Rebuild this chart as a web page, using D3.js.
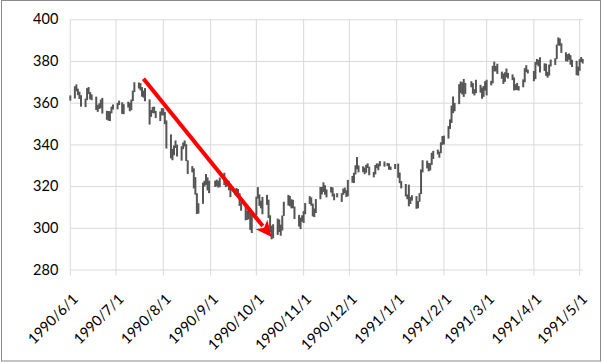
<!DOCTYPE html>
<html>
<head>
<meta charset="utf-8">
<script src="https://d3js.org/d3.v7.min.js"></script>
<style>
body { margin: 0; background: #fff; }
#drawing_region text { font-family: Lato, "Open Sans", sans-serif; fill: #000; }
</style>
</head>
<body>
<svg id="drawing_region"></svg>
<script>
// trading days of each month
const months = ["1990-06", "1990-07", "1990-08", "1990-09", "1990-10", "1990-11",
                "1990-12", "1991-01", "1991-02", "1991-03", "1991-04", "1991-05"];
const trading_days = [
    [1,4,5,6,7,8,11,12,13,14,15,18,19,20,21,22,25,26,27,28,29],
    [2,3,5,6,9,10,11,12,13,16,17,18,19,20,23,24,25,26,27,30,31],
    [1,2,3,6,7,8,9,10,13,14,15,16,17,20,21,22,23,24,27,28,29,30,31],
    [4,5,6,7,10,11,12,13,14,17,18,19,20,21,24,25,26,27,28],
    [1,2,3,4,5,8,9,10,11,12,15,16,17,18,19,22,23,24,25,26,29,30,31],
    [1,2,5,6,7,8,9,12,13,14,15,16,19,20,21,23,26,27,28,29,30],
    [3,4,5,6,7,10,11,12,13,14,17,18,19,20,21,24,26,27,28,31],
    [2,3,4,7,8,9,10,11,14,15,16,17,18,21,22,23,24,25,28,29,30,31],
    [1,4,5,6,7,8,11,12,13,14,15,19,20,21,22,25,26,27,28],
    [1,4,5,6,7,8,11,12,13,14,15,18,19,20,21,22,25,26,27,28],
    [1,2,3,4,5,8,9,10,11,12,15,16,17,18,19,22,23,24,25,26,29,30],
    [1,2,3]
];

const high = [
    363.5,367.9,368.8,366.7,365.3,363.6,362.0,367.0,367.5,365.1,364.0,362.9,359.0,359.7,361.5,362.3,356.1,356.0,355.9,358.1,359.1,
    359.9,361.0,360.2,359.3,360.5,360.0,361.5,365.8,369.8,369.7,369.4,367.5,365.8,367.0,361.6,356.5,358.0,358.1,356.0,355.8,357.4,
    357.3,355.5,351.5,344.8,337.9,339.5,341.9,339.9,339.1,340.9,341.9,340.1,332.4,329.6,328.5,324.3,316.6,311.8,321.7,322.6,325.8,324.2,322.6,
    322.6,323.1,322.6,324.1,326.4,322.1,322.9,322.5,318.7,318.4,319.1,318.6,316.6,312.2,311.3,308.3,308.3,307.8,306.1,
    314.9,319.5,316.0,313.0,314.8,315.8,313.5,306.0,301.0,301.7,304.4,304.0,301.5,305.9,312.5,315.8,315.3,313.7,313.4,310.2,306.2,304.9,306.0,
    308.0,311.9,315.2,314.6,311.6,309.3,313.8,319.6,319.6,321.8,320.4,318.4,319.6,319.4,316.4,316.6,316.6,318.8,319.3,318.0,323.0,
    324.9,326.4,330.0,333.9,329.9,329.5,328.9,330.2,330.9,329.3,326.8,330.1,330.9,330.8,332.0,331.8,331.1,330.9,329.4,330.6,
    330.8,326.5,322.4,321.0,316.0,320.7,314.8,315.6,315.2,312.8,316.6,328.0,332.4,332.2,331.1,331.0,336.0,336.9,337.5,336.5,341.0,344.0,
    344.2,348.8,352.0,358.6,363.0,359.9,368.9,370.2,369.8,371.4,369.5,370.3,369.4,366.5,371.0,368.6,367.3,368.0,370.3,
    371.0,370.5,377.7,379.7,377.6,378.7,374.9,374.0,374.6,376.4,374.3,373.6,372.1,368.9,369.5,368.0,371.2,376.6,378.0,375.9,
    375.2,379.5,381.0,380.6,381.8,378.9,378.7,374.8,378.3,380.7,381.3,387.9,391.3,390.8,388.5,384.2,383.3,383.6,382.8,380.6,380.1,377.3,
    380.9,381.9,381.0
];

const low = [
    361.0,362.0,365.5,363.6,361.8,358.1,357.9,361.2,364.2,361.6,361.2,356.5,355.6,357.0,357.4,354.8,351.8,351.4,351.2,354.9,356.7,
    356.8,358.9,354.6,354.5,357.7,355.9,356.4,360.8,365.1,366.8,365.9,362.9,362.4,360.7,349.5,353.2,355.0,354.9,352.6,351.2,353.9,
    353.9,349.7,338.0,333.3,332.4,334.8,338.3,334.2,332.2,337.7,339.0,332.0,325.8,326.6,318.9,315.9,306.6,306.8,311.5,319.8,320.6,317.9,316.6,
    319.6,319.9,319.3,319.5,320.5,319.5,319.9,318.0,314.7,315.9,315.3,315.8,310.5,308.2,303.6,303.8,304.1,299.0,297.5,
    306.0,314.0,310.5,309.3,306.5,311.0,304.7,298.0,294.5,295.0,296.6,298.0,296.2,298.7,305.7,310.7,310.3,309.3,309.4,304.2,300.6,299.4,302.9,
    302.3,306.5,311.4,310.6,305.5,305.1,307.1,313.7,316.0,317.2,315.9,314.6,316.9,315.0,313.2,314.6,312.4,315.8,316.6,314.8,315.1,
    321.6,321.5,325.6,328.1,326.6,326.7,325.7,326.4,328.7,325.2,324.2,325.6,328.6,327.6,329.5,329.3,329.6,327.9,327.7,328.2,
    324.0,321.4,318.9,315.0,313.7,310.3,311.4,313.0,309.1,309.4,312.5,316.2,326.6,328.5,327.1,327.5,330.2,333.0,335.2,333.6,335.8,339.8,
    340.0,342.8,347.4,350.3,355.0,355.9,359.3,364.6,364.0,362.8,364.2,367.4,364.3,363.5,364.6,364.8,361.9,362.8,365.8,
    363.5,368.3,369.3,375.0,375.0,373.8,371.5,369.0,370.0,372.2,371.6,370.8,365.9,366.0,366.1,365.8,367.4,369.8,374.7,374.0,
    370.3,371.3,378.2,377.4,374.5,375.2,372.9,372.0,373.0,377.4,378.1,380.9,387.4,387.3,383.9,379.9,379.7,380.6,378.2,377.1,373.2,373.0,
    375.3,379.5,378.8
];

const y_ticks = [280, 300, 320, 340, 360, 380, 400];
const x_ticks = ["1990-06-01","1990-07-01","1990-08-01","1990-09-01","1990-10-01","1990-11-01",
                 "1990-12-01","1991-01-01","1991-02-01","1991-03-01","1991-04-01","1991-05-01"];
const x_domain = ["1990-06-01", "1991-05-03"];
const y_domain = [280, 400];

// red annotation arrow (date, value)
const arrow_from = { date: "1990-07-19", value: 371.5 };
const arrow_to   = { date: "1990-10-11", value: 295.6 };

class StockChart {

    constructor( config, data ) {
        this.config = config;
        this.data = data;
        this.init();
    }

    init() {
        let self = this;
        const parse = d3.timeParse("%Y-%m-%d");
        self.parse = parse;

        self.svg = d3.select( self.config.parent )
            .attr('width', self.config.width)
            .attr('height', self.config.height);

        self.svg.append('rect')
            .attr('x', 1.5).attr('y', 0.5)
            .attr('width', self.config.width - 3)
            .attr('height', self.config.height - 1.5)
            .attr('fill', '#fff')
            .attr('stroke', '#8a8a8a');

        const p = self.config.plot;
        self.xscale = d3.scaleTime()
            .domain( x_domain.map(parse) )
            .range( [p.left, p.right] );
        self.yscale = d3.scaleLinear()
            .domain( y_domain )
            .range( [p.bottom, p.top] );
    }

    render() {
        let self = this;
        const p = self.config.plot;

        // horizontal gridlines + y labels
        const yaxis = d3.axisLeft( self.yscale )
            .tickValues( y_ticks )
            .tickSize( -(p.right - p.left) )
            .tickPadding( 12 );
        const yg = self.svg.append('g')
            .attr('transform', `translate(${p.left}, 0)`)
            .call( yaxis );
        yg.select('.domain').remove();
        yg.selectAll('line').attr('stroke', '#d9d9d9');
        yg.selectAll('text').attr('font-size', '14.5px');

        // vertical gridlines with outside ticks
        self.svg.append('g')
            .selectAll('line')
            .data( x_ticks.map(self.parse) )
            .join('line')
            .attr('x1', d => self.xscale(d))
            .attr('x2', d => self.xscale(d))
            .attr('y1', p.top)
            .attr('y2', p.bottom + 6)
            .attr('stroke', '#d9d9d9');

        const fmt = d3.timeFormat("%Y/%-m/%-d");
        self.svg.append('g')
            .selectAll('text')
            .data( x_ticks.map(self.parse) )
            .join('text')
            .attr('transform', d => `translate(${self.xscale(d) + 5}, ${p.bottom + 27}) rotate(-45)`)
            .attr('text-anchor', 'end')
            .attr('dy', '0.35em')
            .attr('font-size', '14.5px')
            .text( d => fmt(d) );

        // high-low bars
        self.svg.append('g')
            .selectAll('line')
            .data( self.data )
            .join('line')
            .attr('x1', d => self.xscale(d.date))
            .attr('x2', d => self.xscale(d.date))
            .attr('y1', d => self.yscale(d.high))
            .attr('y2', d => self.yscale(d.low))
            .attr('stroke', '#555555')
            .attr('stroke-width', 2);

        // arrow
        const x0 = self.xscale(self.parse(arrow_from.date)), y0 = self.yscale(arrow_from.value);
        const x1 = self.xscale(self.parse(arrow_to.date)), y1 = self.yscale(arrow_to.value);
        const len = Math.hypot(x1 - x0, y1 - y0);
        const ux = (x1 - x0) / len, uy = (y1 - y0) / len;
        const head = 16, half = 7.5;
        const bx = x1 - ux * head, by = y1 - uy * head;
        self.svg.append('line')
            .attr('x1', x0).attr('y1', y0)
            .attr('x2', bx + ux * 2).attr('y2', by + uy * 2)
            .attr('stroke', '#ff0000')
            .attr('stroke-width', 4);
        self.svg.append('path')
            .attr('d', `M${x1},${y1} L${bx - uy * half},${by + ux * half} L${bx + ux * 4},${by + uy * 4} L${bx + uy * half},${by - ux * half} Z`)
            .attr('fill', '#ff0000');
    }
}

const data = [];
months.forEach( (m, i) => {
    trading_days[i].forEach( day => {
        data.push({ date: d3.timeParse("%Y-%m-%d")(`${m}-${String(day).padStart(2, '0')}`) });
    });
});
if ( data.length !== high.length || data.length !== low.length )
    console.error('length mismatch', data.length, high.length, low.length);
data.forEach( (d, i) => { d.high = high[i]; d.low = low[i]; });

const chart = new StockChart({
    parent: '#drawing_region',
    width: 602,
    height: 362,
    plot: { left: 70.3, right: 582.7, top: 19.3, bottom: 269.5 }
}, data );
chart.render();
</script>
</body>
</html>
